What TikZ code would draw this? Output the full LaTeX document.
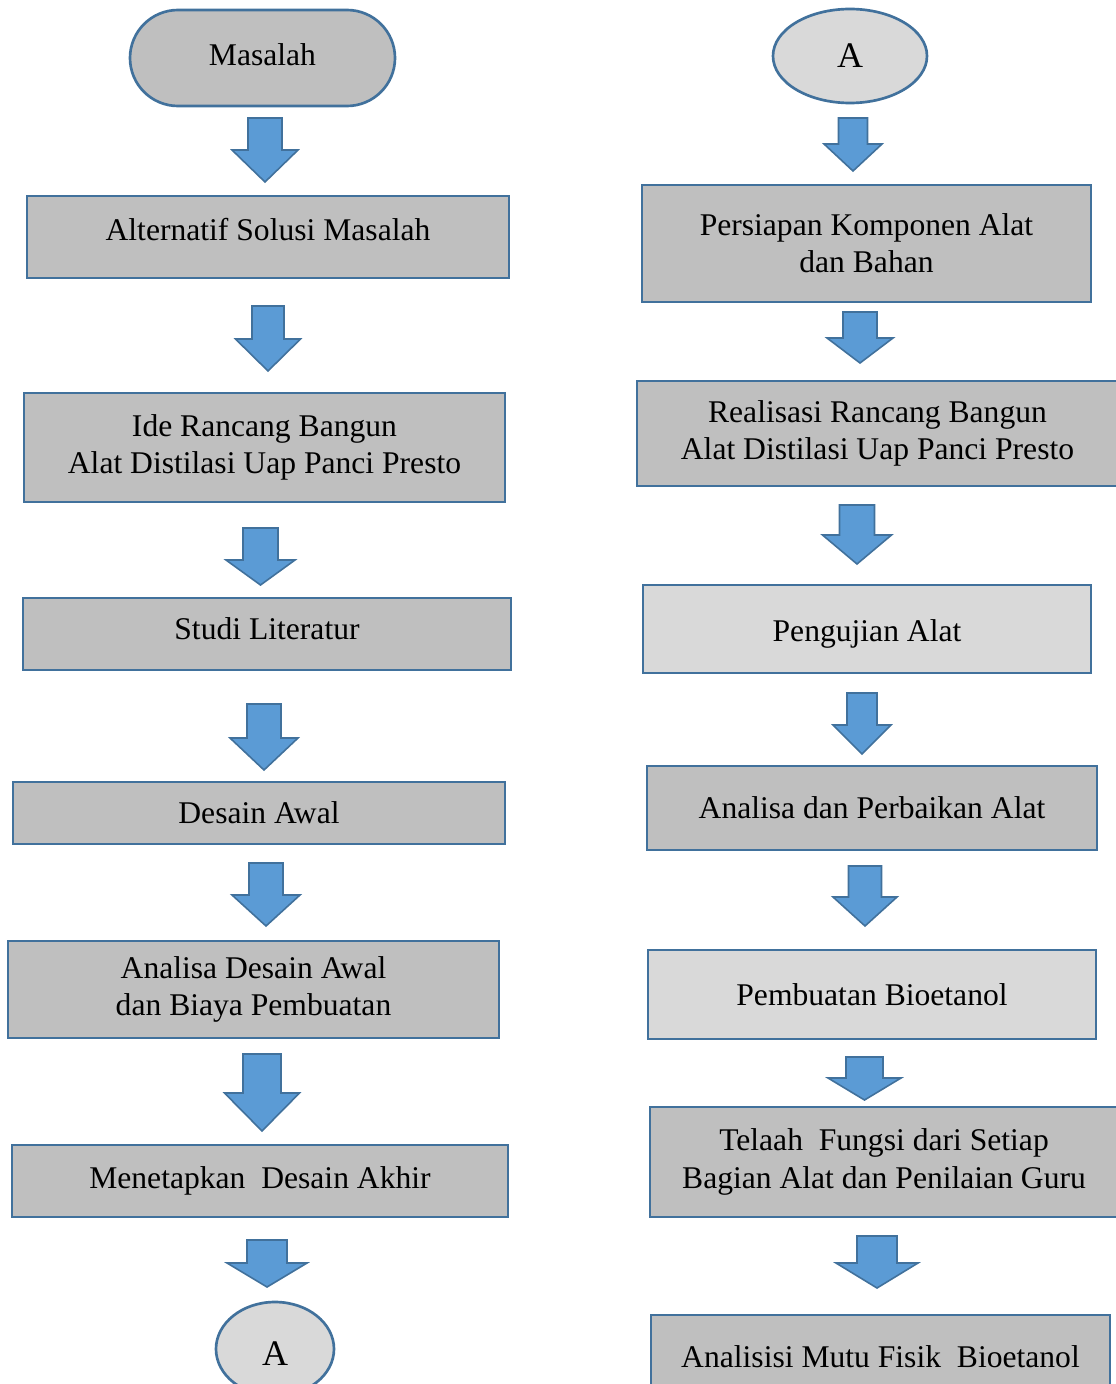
\documentclass[tikz,border=0pt]{standalone}
\usepackage{fontspec}
\setmainfont{Liberation Serif}
\usetikzlibrary{shapes.geometric}

\definecolor{boxgray}{HTML}{BFBFBF}
\definecolor{boxlight}{HTML}{D9D9D9}
\definecolor{boxline}{HTML}{41719C}
\definecolor{arrowblue}{HTML}{5B9BD5}

% block arrow: centre x, top, neck, tip, half shaft, half head
\newcommand{\flowarrow}[6]{%
\draw[blockarrow] (#1-#5,#2) -- (#1+#5,#2) -- (#1+#5,#3) -- (#1+#6,#3)
  -- (#1,#4) -- (#1-#6,#3) -- (#1-#5,#3) -- cycle;}

\tikzset{
  box/.style={draw=boxline, line width=2pt, fill=boxgray, align=center,
    inner sep=0pt, font=\fontsize{23.7}{28}\selectfont},
  lightbox/.style={box, fill=boxlight},
  terminal/.style={box, rounded corners=36pt},
  connector/.style={box, ellipse, fill=boxlight, font=\fontsize{27}{30}\selectfont},
  blockarrow/.style={draw=boxline, line width=1.2pt, fill=arrowblue}
}

\begin{document}
\begin{tikzpicture}[x=0.75pt,y=-0.75pt]
\useasboundingbox (0,0) rectangle (1116,1384);
\clip (0,0) rectangle (1116,1384);

% left column
\node[terminal, minimum width=198.75pt, minimum height=72pt, text depth=4.5pt] (masalah) at (262.5,58) {Masalah};
\node[box, minimum width=361.5pt, minimum height=61.5pt, text depth=12pt] (alternatif) at (268,237) {Alternatif Solusi Masalah};
\node[box, minimum width=360.75pt, minimum height=81.75pt] (ide) at (264.5,447.5) {Ide Rancang Bangun\\Alat Distilasi Uap Panci Presto};
\node[box, minimum width=366pt, minimum height=54pt, text depth=7.5pt] (studi) at (267,634) {Studi Literatur};
\node[box, minimum width=369pt, minimum height=46.5pt] (desainawal) at (259,813) {Desain Awal};
\node[box, minimum width=368.25pt, minimum height=72.75pt] (analisadesain) at (253.5,989.5) {Analisa Desain Awal\\dan Biaya Pembuatan};
\node[box, minimum width=372pt, minimum height=54pt] (desainakhir) at (260,1181) {Menetapkan\ \ Desain Akhir};
\node[connector, minimum width=88.5pt, minimum height=70.5pt, text height=25pt] (keA) at (275,1349) {A};

\flowarrow{265}{118}{150}{182}{17}{33}
\flowarrow{268}{306}{339}{371}{16}{32.5}
\flowarrow{260.5}{528}{560}{585}{17.5}{34.5}
\flowarrow{264}{704}{738}{770}{17}{34}
\flowarrow{266}{863}{895}{926}{17}{34}
\flowarrow{262}{1054}{1093}{1131}{19}{37.5}
\flowarrow{267}{1240}{1263}{1287}{20}{40}

% right column
\node[connector, minimum width=115.5pt, minimum height=70.5pt] (dariA) at (850,56) {A};
\node[box, minimum width=336.75pt, minimum height=87.75pt] (persiapan) at (866.5,243.5) {Persiapan Komponen Alat\\dan Bahan};
\node[box, minimum width=360.75pt, minimum height=78.75pt] (realisasi) at (877.5,433.5) {Realisasi Rancang Bangun\\Alat Distilasi Uap Panci Presto};
\node[lightbox, minimum width=336pt, minimum height=66pt, text height=23.5pt] (pengujian) at (867,629) {Pengujian Alat};
\node[box, minimum width=337.5pt, minimum height=63pt] (perbaikan) at (872,808) {Analisa dan Perbaikan Alat};
\node[lightbox, minimum width=336pt, minimum height=66.75pt] (bioetanol) at (872,994.5) {Pembuatan Bioetanol};
\node[box, minimum width=351pt, minimum height=82.5pt] (telaah) at (884,1162) {Telaah\ \ Fungsi dari Setiap\\Bagian Alat dan Penilaian Guru};
\node[box, minimum width=344.25pt, minimum height=63pt] (mutu) at (880.5,1357) {Analisisi Mutu Fisik\ \ Bioetanol};

\flowarrow{853}{118}{144}{171}{14.5}{29}
\flowarrow{860}{312}{338}{363}{17}{33}
\flowarrow{857}{505}{535}{564}{17.5}{34.5}
\flowarrow{862}{693}{725}{754}{15}{29}
\flowarrow{865}{866}{897}{926}{16.5}{32}
\flowarrow{864.5}{1057}{1078}{1100}{18.5}{36.5}
\flowarrow{877}{1236}{1263}{1288}{20}{41}
\end{tikzpicture}
\end{document}
